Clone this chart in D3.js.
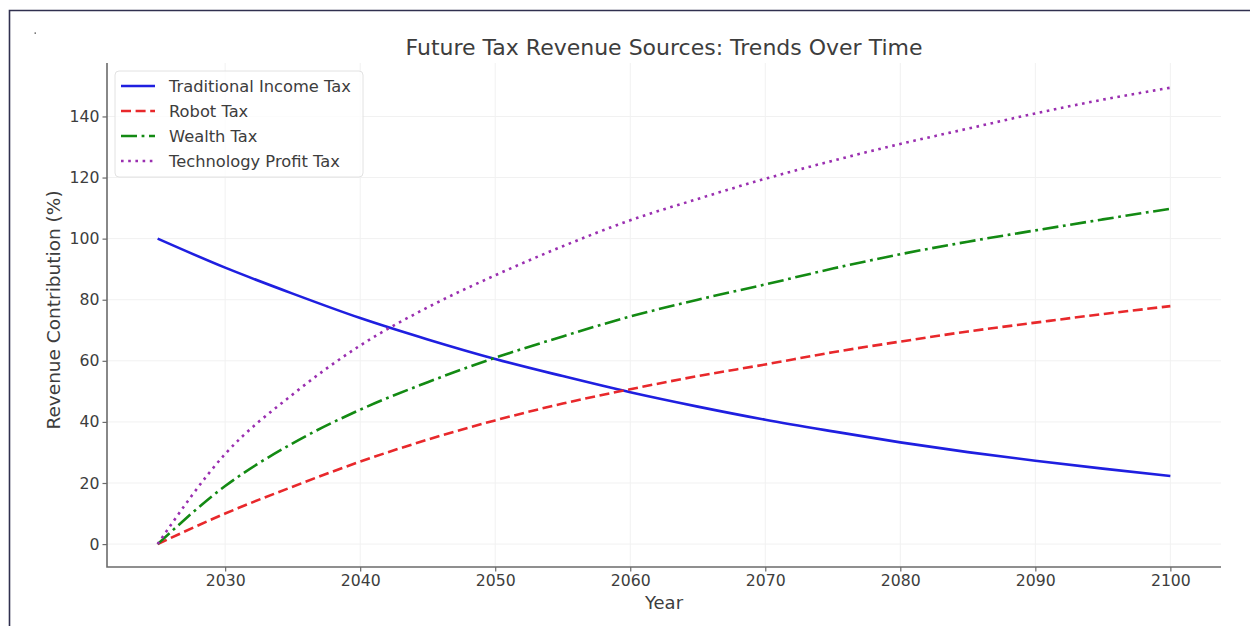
<!DOCTYPE html>
<html>
<head>
<meta charset="utf-8">
<script src="https://cdn.jsdelivr.net/npm/d3@7"></script>
<style>
  html, body { margin: 0; padding: 0; background: #fff; }
  svg { display: block; font-family: "DejaVu Sans", sans-serif; }
</style>
</head>
<body>
<div id="chart"></div>
<script>
"use strict";

// values, every 5 years
const years = [2025, 2030, 2035, 2040, 2045, 2050, 2055, 2060, 2065, 2070, 2075, 2080, 2085, 2090, 2095, 2100];
const incomeTax = [100, 90.5, 82, 74, 67, 60.6, 55, 49.7, 45, 40.7, 36.9, 33.3, 30.1, 27.3, 24.7, 22.3];
const robotTax = [0, 10, 18.8, 27, 34.2, 40.5, 46, 50.7, 55, 58.8, 62.8, 66.3, 69.6, 72.5, 75.3, 77.9];
const wealthTax = [0, 19, 33, 44, 53, 61, 68, 74.5, 80, 85, 90.2, 94.9, 99, 102.7, 106.3, 109.8];
const techTax = [0, 29.5, 49, 65, 77.5, 88, 97.5, 106, 113, 119.6, 125.5, 131, 136, 141, 145.5, 149.4];

const seriesNames = ["Traditional Income Tax", "Robot Tax", "Wealth Tax", "Technology Profit Tax"];
const xTicks = [2030, 2040, 2050, 2060, 2070, 2080, 2090, 2100];
const yTicks = [0, 20, 40, 60, 80, 100, 120, 140];

const series = [
  { name: seriesNames[0], values: incomeTax, color: "#1f1fe0", dash: null },
  { name: seriesNames[1], values: robotTax, color: "#e8282b", dash: "10,4.6" },
  { name: seriesNames[2], values: wealthTax, color: "#138a13", dash: "16,4.6,2.8,4.6" },
  { name: seriesNames[3], values: techTax, color: "#9a2fb0", dash: "2.6,4.6" }
];

const width = 1250;
const height = 626;
const plot = { left: 107, right: 1221, top: 63, bottom: 567 };
const textColor = "#3d3d3d";
const axisColor = "#6b6b6b";

const svg = d3.select("#chart")
  .append("svg")
  .attr("width", width)
  .attr("height", height)
;

// outer frame of the picture
svg.append("path")
  .attr("d", "M9.5,626 V10.5 H1250")
  .attr("fill", "none")
  .attr("stroke", "#30304f")
  .attr("stroke-width", 1.6)
;
svg.append("rect")
  .attr("x", 34.5).attr("y", 32.5)
  .attr("width", 1.5).attr("height", 1.2)
  .attr("fill", "#444")
;

const xScale = d3.scaleLinear()
  .domain([2021.25, 2103.75])
  .range([plot.left, plot.right]);
const yScale = d3.scaleLinear()
  .domain([-7.5, 157.5])
  .range([plot.bottom, plot.top]);

// faint grid
const grid = svg.append("g").attr("stroke", "#f1f1f1").attr("stroke-width", 1);
grid.selectAll(".gx")
  .data(xTicks)
  .enter()
  .append("line")
  .attr("x1", d => xScale(d)).attr("x2", d => xScale(d))
  .attr("y1", plot.top).attr("y2", plot.bottom)
;
grid.selectAll(".gy")
  .data(yTicks)
  .enter()
  .append("line")
  .attr("x1", plot.left).attr("x2", plot.right)
  .attr("y1", d => yScale(d)).attr("y2", d => yScale(d))
;

const xAxis = d3.axisBottom(xScale).tickValues(xTicks).tickFormat(d3.format("d")).tickSizeOuter(0).tickSize(4.5).tickPadding(3);
const yAxis = d3.axisLeft(yScale).tickValues(yTicks).tickSizeOuter(0).tickSize(4.5).tickPadding(3);

const gx = svg.append("g")
  .attr("transform", `translate(0, ${plot.bottom})`)
  .call(xAxis)
;
const gy = svg.append("g")
  .attr("transform", `translate(${plot.left}, 0)`)
  .call(yAxis)
;
for (const g of [gx, gy]) {
  g.select(".domain").remove();
  g.selectAll(".tick line").attr("stroke", axisColor).attr("stroke-width", 1.2);
  g.selectAll(".tick text")
    .attr("fill", textColor)
    .style("font-size", "15.7px")
    .style("font-family", "DejaVu Sans, sans-serif")
  ;
}

// left and bottom spines only
svg.append("path")
  .attr("d", `M${plot.left},${plot.top} V${plot.bottom} H${plot.right}`)
  .attr("fill", "none")
  .attr("stroke", axisColor)
  .attr("stroke-width", 1.6)
;

const line = d3.line()
  .x((d, i) => xScale(years[i]))
  .y(d => yScale(d))
  .curve(d3.curveMonotoneX);

svg.append("g")
  .selectAll("path")
  .data(series)
  .enter()
  .append("path")
  .attr("d", d => line(d.values))
  .attr("fill", "none")
  .attr("stroke", d => d.color)
  .attr("stroke-width", 2.6)
  .attr("stroke-dasharray", d => d.dash)
;

// titles
svg.append("text")
  .attr("x", (plot.left + plot.right) / 2)
  .attr("y", 55)
  .attr("text-anchor", "middle")
  .attr("fill", textColor)
  .style("font-size", "22px")
  .text("Future Tax Revenue Sources: Trends Over Time")
;
svg.append("text")
  .attr("x", (plot.left + plot.right) / 2)
  .attr("y", 609)
  .attr("text-anchor", "middle")
  .attr("fill", textColor)
  .style("font-size", "18px")
  .text("Year")
;
svg.append("text")
  .attr("transform", `translate(60, ${(plot.top + plot.bottom) / 2 - 5}) rotate(-90)`)
  .attr("text-anchor", "middle")
  .attr("fill", textColor)
  .style("font-size", "18.5px")
  .text("Revenue Contribution (%)")
;

// legend
const legend = svg.append("g").attr("transform", "translate(115, 71)");
legend.append("rect")
  .attr("width", 248)
  .attr("height", 106)
  .attr("rx", 4)
  .attr("fill", "#fff")
  .attr("fill-opacity", 0.8)
  .attr("stroke", "#e2e2e2")
;
const rows = legend.selectAll(".row")
  .data(series)
  .enter()
  .append("g")
  .attr("transform", (d, i) => `translate(0, ${15 + i * 25})`)
;
rows.append("line")
  .attr("x1", 6).attr("x2", 40)
  .attr("stroke", d => d.color)
  .attr("stroke-width", 2.6)
  .attr("stroke-dasharray", d => d.dash)
;
rows.append("text")
  .attr("x", 54)
  .attr("y", 5.8)
  .attr("fill", textColor)
  .style("font-size", "16.3px")
  .text(d => d.name)
;
</script>
</body>
</html>
